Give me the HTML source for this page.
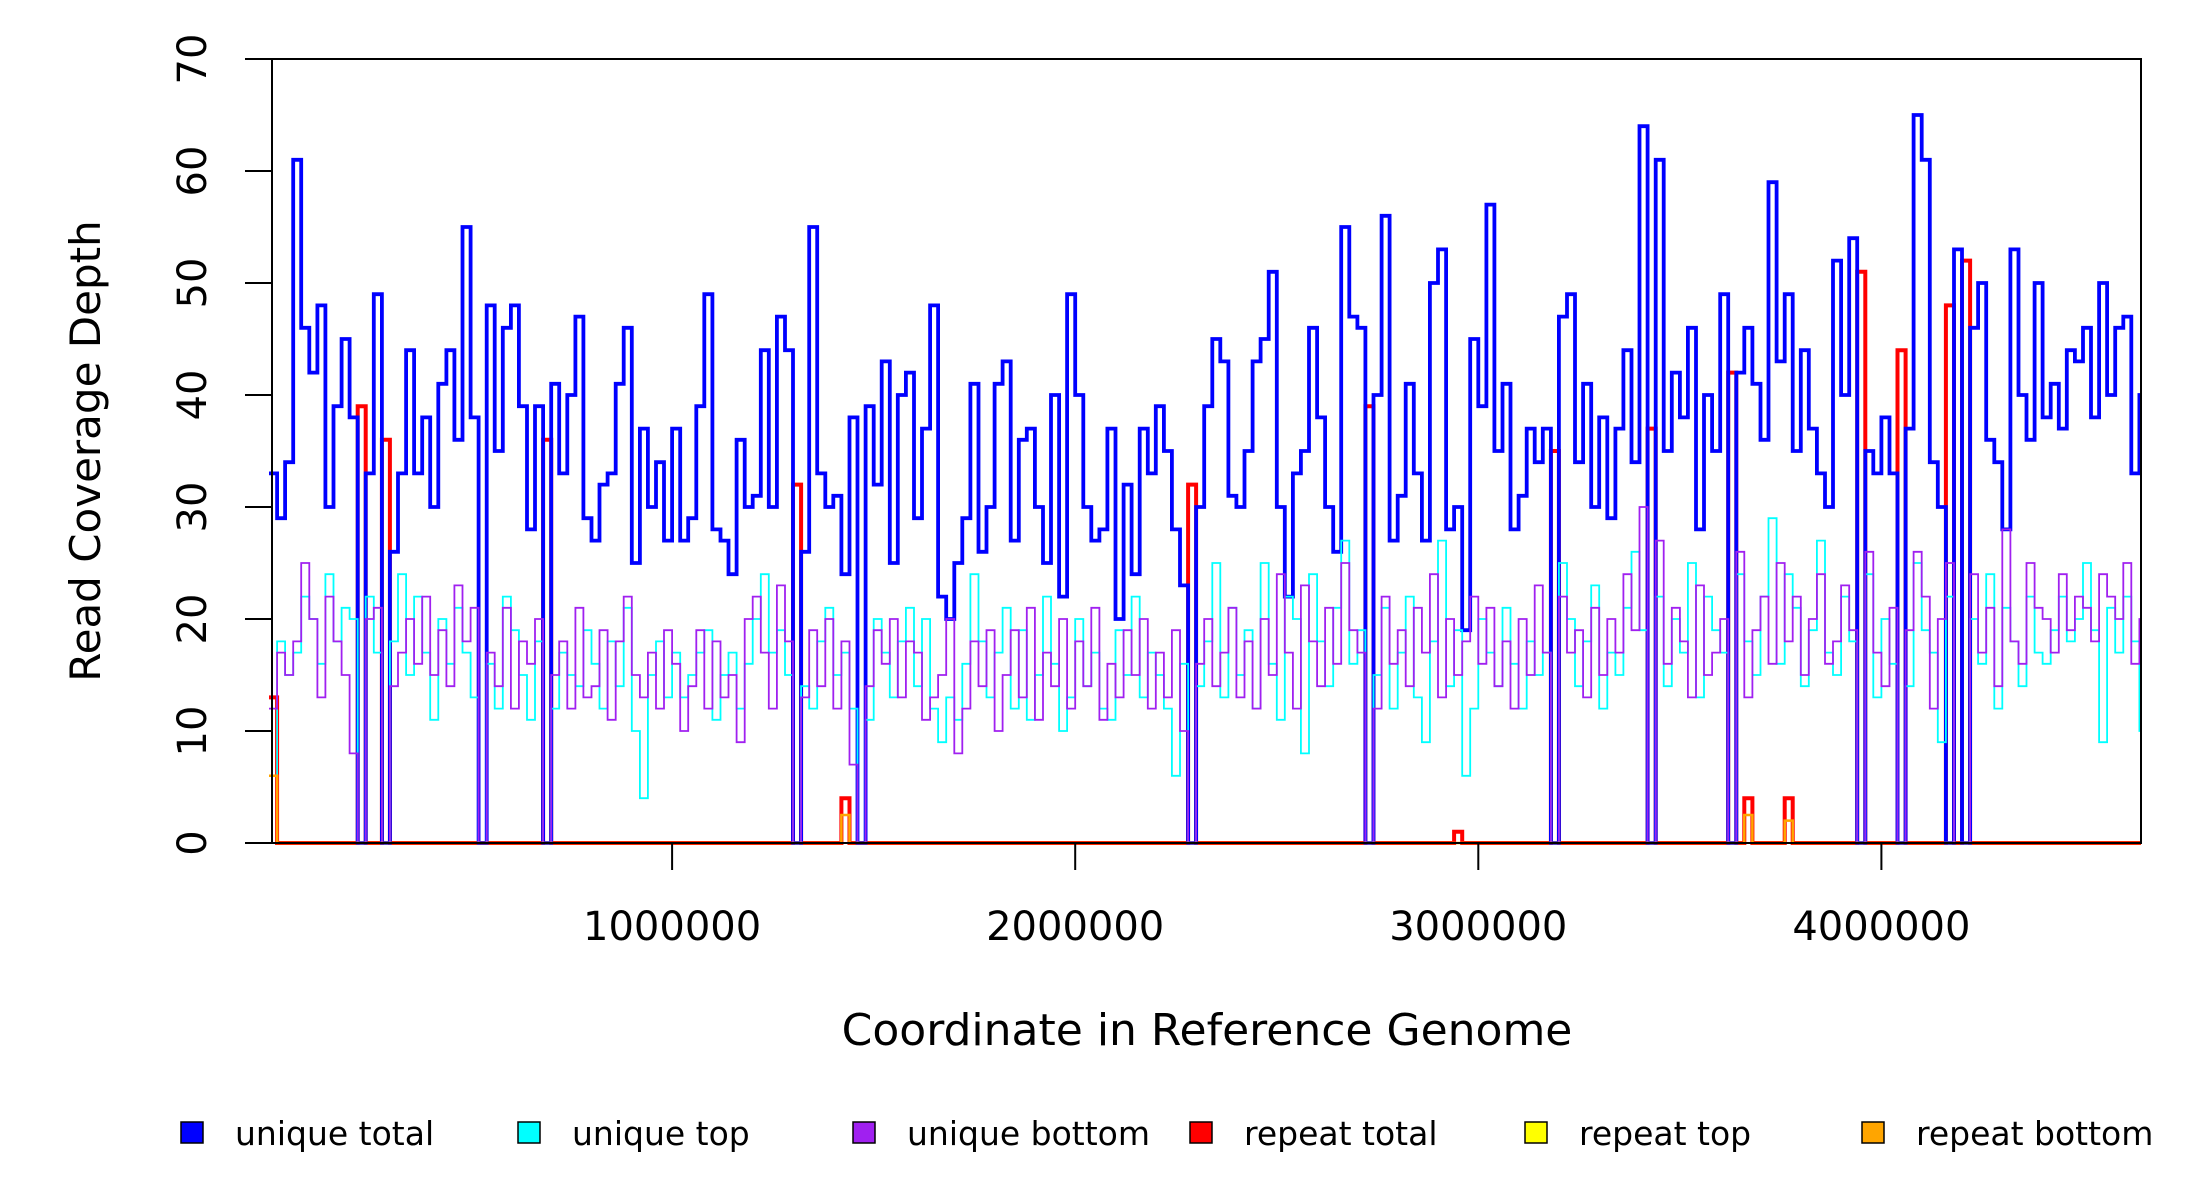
<!DOCTYPE html>
<html><head><meta charset="utf-8">
<style>
html,body{margin:0;padding:0;background:#fff;}
svg{display:block;font-family:"DejaVu Sans","Liberation Sans",sans-serif;}
</style></head>
<body>
<svg id="chart" width="2200" height="1200" viewBox="0 0 2200 1200" xmlns="http://www.w3.org/2000/svg">
<rect x="0" y="0" width="2200" height="1200" fill="#fff"/>
<g id="series"></g>
<rect x="272" y="59" width="1869" height="784" fill="none" stroke="#000" stroke-width="2"/>
<g id="axes"></g>
<text x="0" y="0" transform="translate(100,451) rotate(-90)" text-anchor="middle" font-size="42" fill="#000">Read Coverage Depth</text>
<text x="1207" y="1045" text-anchor="middle" font-size="44" fill="#000">Coordinate in Reference Genome</text>
<g id="legend"></g>
</svg>
<script>
const binSize = 20000;
const genomeLength = 4644000;
const yTicks = [0,10,20,30,40,50,60,70];
const xTicks = [1000000,2000000,3000000,4000000];
const xTickLabels = ["1000000","2000000","3000000","4000000"];
const uniqueTotal = [33,29,34,61,46,42,48,30,39,45,
38,0,33,49,0,26,33,44,33,38,
30,41,44,36,55,38,0,48,35,46,
48,39,28,39,0,41,33,40,47,29,
27,32,33,41,46,25,37,30,34,27,
37,27,29,39,49,28,27,24,36,30,
31,44,30,47,44,0,26,55,33,30,
31,24,38,0,39,32,43,25,40,42,
29,37,48,22,20,25,29,41,26,30,
41,43,27,36,37,30,25,40,22,49,
40,30,27,28,37,20,32,24,37,33,
39,35,28,23,0,30,39,45,43,31,
30,35,43,45,51,30,22,33,35,46,
38,30,26,55,47,46,0,40,56,27,
31,41,33,27,50,53,28,30,19,45,
39,57,35,41,28,31,37,34,37,0,
47,49,34,41,30,38,29,37,44,34,
64,0,61,35,42,38,46,28,40,35,
49,0,42,46,41,36,59,43,49,35,
44,37,33,30,52,40,54,0,35,33,
38,33,0,37,65,61,34,30,0,53,
0,46,50,36,34,28,53,40,36,50,
38,41,37,44,43,46,38,50,40,46,47,33,40];
const uniqueTop = [6,18,15,17,22,20,16,24,18,21,
20,0,22,17,0,18,24,15,22,17,
11,20,16,21,17,13,0,16,12,22,
19,15,11,18,0,12,17,15,14,19,
16,12,18,14,21,10,4,15,18,13,
17,13,15,17,19,11,15,17,12,16,
20,24,17,19,15,0,14,12,18,21,
15,17,12,0,11,20,17,13,18,21,
14,20,12,9,13,11,16,24,18,13,
17,21,12,19,11,15,22,16,10,13,
20,14,17,12,11,19,15,22,13,17,
15,12,6,16,0,14,18,25,13,21,
15,19,12,25,16,11,22,20,8,24,
18,14,21,27,16,19,0,15,21,12,
17,22,13,9,18,27,14,19,6,12,
20,17,14,21,16,12,18,15,17,0,
25,20,14,18,23,12,17,15,21,26,
19,0,22,14,20,17,25,13,22,19,
17,0,24,18,15,22,29,16,24,21,
14,19,27,17,15,22,18,0,24,13,
20,16,0,14,25,19,17,9,22,0,
0,20,16,24,12,21,18,14,22,17,
16,19,22,18,20,25,19,9,21,17,22,18,10];
const uniqueBottom = [12,17,15,18,25,20,13,22,18,15,
8,0,20,21,0,14,17,20,16,22,
15,19,14,23,18,21,0,17,14,21,
12,18,16,20,0,15,18,12,21,13,
14,19,11,18,22,15,13,17,12,19,
16,10,14,19,12,18,13,15,9,20,
22,17,12,23,18,0,13,19,14,20,
12,18,7,0,14,19,16,20,13,18,
17,11,13,15,20,8,12,18,14,19,
10,15,19,13,21,11,17,14,20,12,
18,14,21,11,16,13,19,15,20,12,
17,13,19,10,0,16,20,14,17,21,
13,18,12,20,15,24,17,12,23,18,
14,21,16,25,19,17,0,12,22,16,
19,14,21,17,24,13,20,15,18,22,
16,21,14,18,12,20,15,23,17,0,
22,17,19,13,21,15,20,17,24,19,
30,0,27,16,21,18,13,23,15,17,
20,0,26,13,19,22,16,25,18,22,
15,20,24,16,18,23,19,0,26,17,
14,21,0,19,26,22,12,20,25,0,
0,24,17,21,14,28,18,16,25,21,
20,17,24,19,22,21,18,24,22,20,25,16,20];
const repeatBins = [0,11,14,34,65,71,114,136,147,159,171,181,183,188,197,202,208,210];
const repeatTotal = [13,39,36,36,32,4,32,39,1,35,37,42,4,4,51,44,48,52];
const repeatTop = [6,0,0,0,0,2.5,0,0,0,0,0,0,2.5,2,0,0,0,0];
const repeatBottom = [6,0,0,0,0,2.5,0,0,0,0,0,0,2.5,2,0,0,0,0];

const X0 = 269, XPX = 403.1/1e6, Y0 = 843, YPX = 784/70;
function xs(v){ return X0 + v*XPX; }
function ys(v){ return Y0 - v*YPX; }
const NS = "http://www.w3.org/2000/svg";
function stepPath(vals){
  let d = "";
  for(let i=0;i<vals.length;i++){
    const a = xs(i*binSize), b = xs(Math.min((i+1)*binSize, genomeLength));
    const y = ys(vals[i]);
    if(i===0) d += "M"+a.toFixed(1)+","+y.toFixed(1);
    else d += "V"+y.toFixed(1);
    d += "H"+b.toFixed(1);
  }
  return d;
}
function expand(vals){
  const out = new Array(uniqueTotal.length).fill(0);
  repeatBins.forEach((b,k)=>{ out[b] = vals[k]; });
  return out;
}
const layer = document.getElementById("series");
function addLine(vals, color, w, name){
  const p = document.createElementNS(NS,"path");
  
  
  p.setAttribute("d", stepPath(vals));
  p.setAttribute("fill","none");
  p.setAttribute("stroke",color);
  p.setAttribute("stroke-width",w);
  layer.appendChild(p);
}
addLine(expand(repeatTotal), "#ff0000", 4, "repeat-total-line");
addLine(uniqueTotal, "#0000ff", 3.8, "unique-total-line");
addLine(uniqueTop, "#00ffff", 1.8, "unique-top-line");
addLine(uniqueBottom, "#a020f0", 1.8, "unique-bottom-line");
addLine(expand(repeatTop), "#ffff00", 2, "repeat-top-line");
addLine(expand(repeatBottom), "#ffa500", 2.5, "repeat-bottom-line");

const axes = document.getElementById("axes");
yTicks.forEach(t=>{
  const y = ys(t);
  const l = document.createElementNS(NS,"line");
  
  
  l.setAttribute("x1",245); l.setAttribute("x2",272);
  l.setAttribute("y1",y); l.setAttribute("y2",y);
  l.setAttribute("stroke","#000"); l.setAttribute("stroke-width",2);
  axes.appendChild(l);
  const tx = document.createElementNS(NS,"text");
  
  
  tx.setAttribute("transform","translate(206,"+y+") rotate(-90)");
  tx.setAttribute("text-anchor","middle");
  tx.setAttribute("font-size","40");
  tx.textContent = String(t);
  axes.appendChild(tx);
});
xTicks.forEach((t,i)=>{
  const x = xs(t);
  const l = document.createElementNS(NS,"line");
  
  
  l.setAttribute("x1",x); l.setAttribute("x2",x);
  l.setAttribute("y1",843); l.setAttribute("y2",870);
  l.setAttribute("stroke","#000"); l.setAttribute("stroke-width",2);
  axes.appendChild(l);
  const tx = document.createElementNS(NS,"text");
  
  
  tx.setAttribute("x",x); tx.setAttribute("y",940);
  tx.setAttribute("text-anchor","middle");
  tx.setAttribute("font-size","40");
  tx.textContent = xTickLabels[i];
  axes.appendChild(tx);
});

const legendNames = ["unique total","unique top","unique bottom","repeat total","repeat top","repeat bottom"];
const legendColors = ["#0000ff","#00ffff","#a020f0","#ff0000","#ffff00","#ffa500"];
const legendX = [181,518,853,1190,1525,1862];
const lg = document.getElementById("legend");
legendNames.forEach((n,i)=>{
  const g = document.createElementNS(NS,"g");
  
  
  const r = document.createElementNS(NS,"rect");
  
  
  r.setAttribute("x",legendX[i]); r.setAttribute("y",1122);
  r.setAttribute("width",22); r.setAttribute("height",21);
  r.setAttribute("fill",legendColors[i]); r.setAttribute("stroke","#000"); r.setAttribute("stroke-width",1.5);
  g.appendChild(r);
  const t = document.createElementNS(NS,"text");
  
  
  t.setAttribute("x",legendX[i]+54); t.setAttribute("y",1145);
  t.setAttribute("font-size","33");
  t.textContent = n;
  g.appendChild(t);
  lg.appendChild(g);
});
</script>
</body></html>
